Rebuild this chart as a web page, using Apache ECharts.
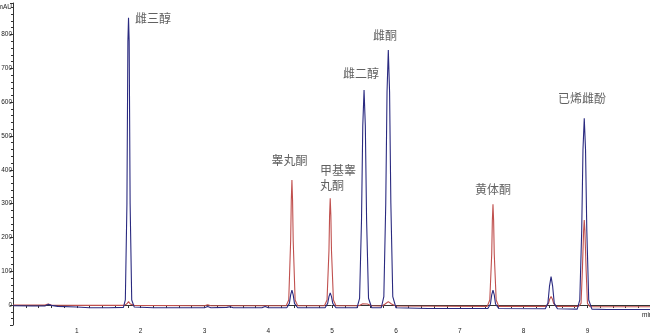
<!DOCTYPE html>
<html>
<head>
<meta charset="utf-8">
<script src="https://cdn.jsdelivr.net/npm/echarts@6/dist/echarts.min.js"></script>
<style>html,body{margin:0;padding:0;background:#fff}#c{width:650px;height:335px}</style>
</head>
<body>
<div id="c"></div>
<script>
// x-axis tick labels (min) and y-axis tick labels (mAU)
const xTickLabels = [1, 2, 3, 4, 5, 6, 7, 8, 9];
const yTickLabels = [0, 100, 200, 300, 400, 500, 600, 700, 800];

// Trace 1 (dark blue): [retention time (min), signal (mAU)]
const blueTrace = [
  [0, -2], [0.3, -3], [0.5, -3], [0.55, 2], [0.6, -1], [0.7, -4], [1.0, -6], [1.2, -8], [1.5, -8], [1.73, -7],
  [1.76, 15], [1.785, 300], [1.80, 780], [1.81, 849], [1.82, 780], [1.835, 300], [1.86, 15], [1.90, -6],
  [2.2, -8], [2.6, -8], [3.0, -8], [3.05, -4], [3.1, -8], [3.35, -7], [3.4, -5], [3.45, -8], [3.9, -8], [3.95, -4], [4.0, -8],
  [4.29, -8], [4.33, 5], [4.35, 30], [4.37, 44], [4.39, 30], [4.41, 5], [4.46, -8],
  [4.89, -8], [4.93, 5], [4.95, 25], [4.97, 36], [4.99, 25], [5.01, 5], [5.06, -8],
  [5.39, -8], [5.43, 20], [5.46, 250], [5.48, 530], [5.50, 636], [5.52, 530], [5.54, 250], [5.57, 20], [5.62, -8],
  [5.77, -8], [5.81, 25], [5.84, 300], [5.86, 630], [5.88, 754], [5.90, 630], [5.92, 300], [5.95, 25], [6.0, -8],
  [6.5, -10], [7.44, -10], [7.48, 3], [7.50, 30], [7.52, 44], [7.54, 30], [7.56, 3], [7.61, -10],
  [8.34, -11], [8.38, 5], [8.405, 55], [8.43, 84], [8.455, 55], [8.48, 5], [8.53, -11],
  [8.84, -12], [8.88, 15], [8.91, 220], [8.93, 460], [8.95, 552], [8.97, 460], [8.99, 220], [9.02, 15], [9.07, -12],
  [9.3, -13], [9.98, -13]
];

// Trace 2 (red): [retention time (min), signal (mAU)]
const redTrace = [
  [0, 0], [0.5, 0], [0.55, 3], [0.6, 0], [1.0, -1], [1.74, -1], [1.78, 3], [1.81, 10], [1.84, 3], [1.9, -1],
  [3.0, -2], [3.05, 1], [3.1, -2],
  [4.28, -2], [4.32, 15], [4.35, 190], [4.36, 310], [4.37, 370], [4.38, 310], [4.39, 190], [4.42, 15], [4.46, -2],
  [4.88, -2], [4.92, 15], [4.95, 160], [4.96, 265], [4.97, 316], [4.98, 265], [4.99, 160], [5.02, 15], [5.06, -2],
  [5.42, -2], [5.48, 4], [5.51, 7], [5.55, 3], [5.62, -2], [5.78, -3], [5.83, 3], [5.88, 10], [5.93, 3], [6.0, -3],
  [7.43, -4], [7.47, 15], [7.50, 150], [7.51, 250], [7.52, 298], [7.53, 250], [7.54, 150], [7.57, 15], [7.61, -4],
  [8.35, -4], [8.39, 5], [8.41, 18], [8.43, 25], [8.45, 18], [8.47, 5], [8.51, -4],
  [8.86, -4], [8.90, 5], [8.92, 100], [8.94, 220], [8.95, 251], [8.96, 220], [8.98, 100], [9.0, 5], [9.04, -5],
  [9.98, -5]
];

// Peak annotations: [time (min), signal (mAU), name] — left edge of text
const peakLabels = [
  [1.91, 846, '雌三醇'],
  [4.05, 429, '睾丸酮'],
  [4.81, 377, '甲基睾\n丸酮'],
  [5.17, 686, '雌二醇'],
  [5.64, 796, '雌酮'],
  [7.24, 343, '黄体酮'],
  [8.54, 612, '已烯雌酚']
];

const chart = echarts.init(document.getElementById('c'), null, {renderer: 'canvas'});
const tickFont = {fontFamily: 'Liberation Sans', fontSize: 6.5, color: '#222'};
chart.setOption({
  animation: false,
  backgroundColor: '#fff',
  grid: {left: 13, right: 0, top: 3, bottom: 10, containLabel: false, outerBoundsMode: 'none'},
  xAxis: {
    type: 'value', min: 0, max: 9.98, interval: 1,
    name: 'min', nameLocation: 'end', nameGap: -8,
    nameTextStyle: Object.assign({}, tickFont, {align: 'left', verticalAlign: 'top', padding: [7, 0, 0, 0]}),
    axisLine: {show: true, lineStyle: {color: '#333', width: 1}},
    axisTick: {show: true, length: 3, lineStyle: {color: '#333'}},
    minorTick: {show: true, splitNumber: 5, length: 3, lineStyle: {color: '#333'}},
    axisLabel: Object.assign({}, tickFont, {margin: 3, showMinLabel: false, showMaxLabel: false,
      formatter: v => xTickLabels.indexOf(Math.round(v * 100) / 100) >= 0 ? String(v) : ''}),
    splitLine: {show: false}
  },
  yAxis: {
    type: 'value', min: -59, max: 893, splitNumber: 10,
    name: 'mAU', nameLocation: 'end', nameGap: -1,
    nameTextStyle: Object.assign({}, tickFont, {align: 'right', verticalAlign: 'top', padding: [0, 1, 0, 0]}),
    axisLine: {show: true, lineStyle: {color: '#333', width: 1}},
    axisTick: {show: true, length: 3, lineStyle: {color: '#333'}},
    minorTick: {show: true, splitNumber: 5, length: 2, lineStyle: {color: '#333'}},
    axisLabel: Object.assign({}, tickFont, {margin: 1, showMinLabel: false, showMaxLabel: false,
      formatter: v => yTickLabels.indexOf(Math.round(v)) >= 0 && Math.abs(v - Math.round(v)) < 1e-6 ? String(Math.round(v)) : ''}),
    splitLine: {show: false}
  },
  series: [
    {type: 'line', data: redTrace, showSymbol: false, symbol: 'none', z: 2,
      lineStyle: {color: '#c0504e', width: 1.1}},
    {type: 'line', data: blueTrace, showSymbol: false, symbol: 'none', z: 3,
      lineStyle: {color: '#2a2a80', width: 1.1}},
    {type: 'scatter', data: peakLabels, symbolSize: 0, z: 5, silent: true,
      label: {show: true, position: 'right', distance: 0, align: 'left',
        formatter: p => p.data[2], fontFamily: 'Noto Sans CJK SC', fontSize: 12,
        lineHeight: 15, color: '#3a3a3a'}}
  ]
});
</script>
</body>
</html>
